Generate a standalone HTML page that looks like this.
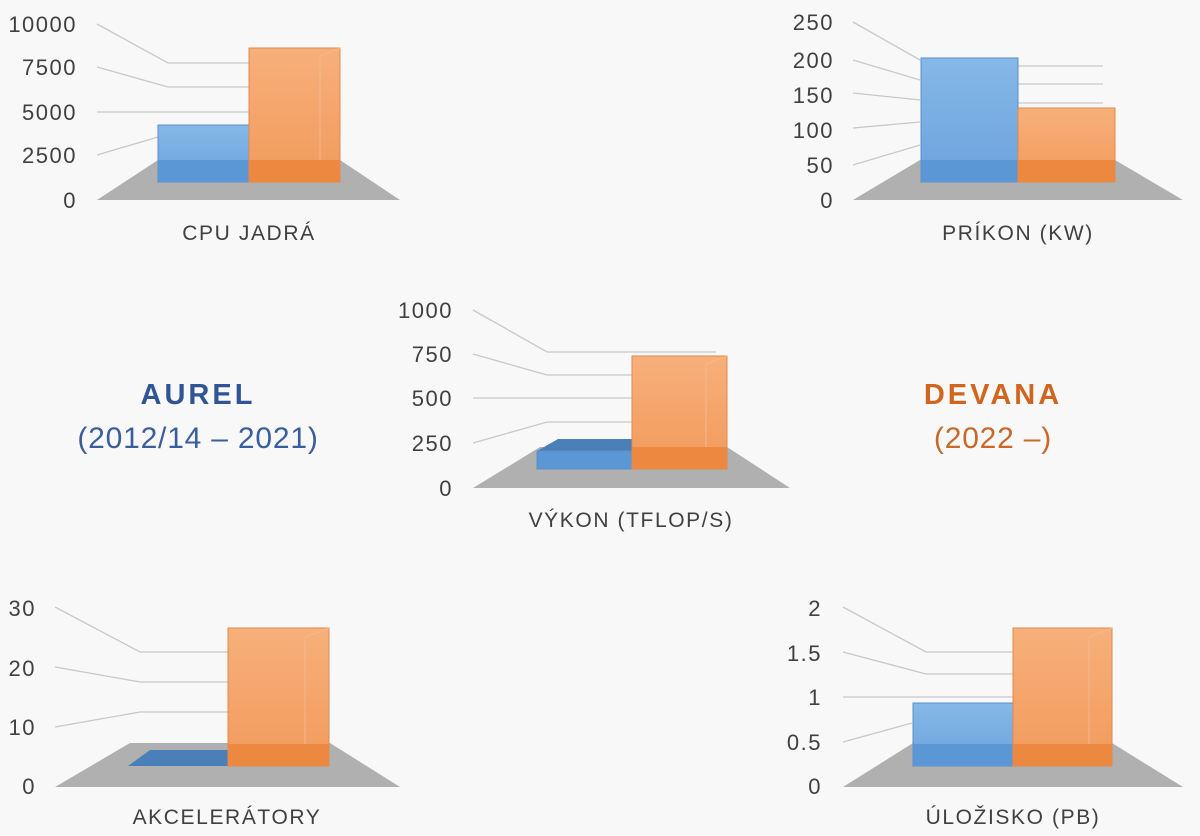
<!DOCTYPE html>
<html><head><meta charset="utf-8"><style>
html,body{margin:0;padding:0;background:#f8f8f8;}
svg{display:block}
text{font-family:"Liberation Sans",sans-serif;fill:#404040}
.t{font-size:22px;text-anchor:end;letter-spacing:1.5px}
.c{font-size:21px;text-anchor:middle;letter-spacing:1.6px}
.g{stroke:#c8c8c8;stroke-width:1.3;fill:none}
.floor{fill:#b0b0b0}
</style></head><body>
<svg width="1200" height="836" viewBox="0 0 1200 836">
<defs>
<linearGradient id="bl" x1="0" y1="0" x2="0" y2="1"><stop offset="0" stop-color="#86b8e8"/><stop offset="1" stop-color="#6aa3dc"/></linearGradient>
<linearGradient id="or" x1="0" y1="0" x2="0" y2="1"><stop offset="0" stop-color="#f7b07a"/><stop offset="1" stop-color="#f29a5c"/></linearGradient>
</defs>

<!-- CHART 1: CPU -->
<text class="t" x="77" y="32">10000</text><text class="t" x="77" y="75">7500</text><text class="t" x="77" y="120">5000</text><text class="t" x="77" y="163">2500</text><text class="t" x="77" y="208">0</text>
<polygon class="floor" points="97,200 400,200 340,160 158,160"/>
<polyline class="g" points="97,24 168,63 340,63"/><polyline class="g" points="97,67 168,87 340,87"/><polyline class="g" points="97,112 340,112"/><polyline class="g" points="97,155 158,137"/>
<rect x="158" y="125" width="91" height="57" fill="url(#bl)" stroke="#5a8fc8"/>
<rect x="158" y="160" width="91" height="22" fill="#5b97d4"/>
<rect x="249" y="48" width="91" height="134" fill="url(#or)" stroke="#e08a4e"/>
<rect x="249" y="160" width="91" height="22" fill="#ec8840"/>
<polyline points="320,56 320,160" stroke="#f4b890" fill="none"/><line x1="320" y1="56" x2="340" y2="48" stroke="#f4b890"/>
<text class="c" x="249" y="240">CPU JADRÁ</text>

<!-- CHART 2: PRIKON -->
<text class="t" x="834" y="30">250</text><text class="t" x="834" y="68">200</text><text class="t" x="834" y="103">150</text><text class="t" x="834" y="138">100</text><text class="t" x="834" y="173">50</text><text class="t" x="834" y="208">0</text>
<polygon class="floor" points="853,200 1183,200 1115,160 920,160"/>
<polyline class="g" points="853,22 920,60"/><polyline class="g" points="853,60 920,80"/><polyline class="g" points="853,93 920,100"/><polyline class="g" points="853,128 920,122"/><polyline class="g" points="853,165 920,145"/>
<line class="g" x1="1018" y1="66" x2="1103" y2="66"/><line class="g" x1="1018" y1="84" x2="1103" y2="84"/><line class="g" x1="1018" y1="103" x2="1103" y2="103"/>
<rect x="921" y="58" width="97" height="124" fill="url(#bl)" stroke="#5a8fc8"/>
<rect x="921" y="160" width="97" height="22" fill="#5b97d4"/>
<rect x="1018" y="108" width="97" height="74" fill="url(#or)" stroke="#e08a4e"/>
<rect x="1018" y="160" width="97" height="22" fill="#ec8840"/>
<text class="c" x="1018" y="240">PRÍKON (KW)</text>

<!-- CENTER: VYKON -->
<text class="t" x="453" y="318">1000</text><text class="t" x="453" y="362">750</text><text class="t" x="453" y="406">500</text><text class="t" x="453" y="451">250</text><text class="t" x="453" y="496">0</text>
<polygon class="floor" points="473,488 790,488 727,447 540,447"/>
<polyline class="g" points="473,310 547,352 716,352"/><polyline class="g" points="473,354 547,375 632,375"/><polyline class="g" points="473,398 632,398"/><polyline class="g" points="473,443 547,422 632,422"/>
<polygon points="537,451 558,439 632,439 632,451" fill="#4a7fb8"/>
<rect x="537" y="451" width="95" height="18" fill="#5b97d4" stroke="#5a8fc8"/>
<rect x="632" y="356" width="95" height="113" fill="url(#or)" stroke="#e08a4e"/>
<rect x="632" y="447" width="95" height="22" fill="#ec8840"/>
<polyline points="706,364 706,447" stroke="#f4b890" fill="none"/><line x1="706" y1="364" x2="727" y2="356" stroke="#f4b890"/>
<text class="c" x="631" y="527">VÝKON (TFLOP/S)</text>

<!-- Titles -->
<text x="198" y="404" style="font-size:29px;font-weight:bold;fill:#2f5597;text-anchor:middle;letter-spacing:3px">AUREL</text>
<text x="198" y="448" style="font-size:30px;fill:#3a5d9c;text-anchor:middle;letter-spacing:0.8px">(2012/14 – 2021)</text>
<text x="993" y="404" style="font-size:29px;font-weight:bold;fill:#d0651f;text-anchor:middle;letter-spacing:3px">DEVANA</text>
<text x="993" y="448" style="font-size:30px;fill:#c8682a;text-anchor:middle;letter-spacing:0.8px">(2022 –)</text>

<!-- CHART 4: AKCELERATORY -->
<text class="t" x="36" y="616">30</text><text class="t" x="36" y="676">20</text><text class="t" x="36" y="735">10</text><text class="t" x="36" y="794">0</text>
<polygon class="floor" points="55,787 400,787 330,743 130,743"/>
<polyline class="g" points="55,607 140,652 228,652"/><polyline class="g" points="55,667 140,682 228,682"/><polyline class="g" points="55,727 140,712 228,712"/>
<polygon points="128,766 150,750 228,750 228,766" fill="#4a7fb8"/>
<rect x="228" y="628" width="101" height="138" fill="url(#or)" stroke="#e08a4e"/>
<rect x="228" y="744" width="101" height="22" fill="#ec8840"/>
<polyline points="305,637 305,744" stroke="#f4b890" fill="none"/><line x1="305" y1="637" x2="329" y2="628" stroke="#f4b890"/>
<text class="c" x="227" y="824">AKCELERÁTORY</text>

<!-- CHART 5: ULOZISKO -->
<text class="t" x="822" y="616">2</text><text class="t" x="822" y="661">1.5</text><text class="t" x="822" y="705">1</text><text class="t" x="822" y="750">0.5</text><text class="t" x="822" y="794">0</text>
<polygon class="floor" points="843,787 1183,787 1112,743 913,743"/>
<polyline class="g" points="843,607 926,652 1013,652"/><polyline class="g" points="843,652 926,674 1013,674"/><polyline class="g" points="843,697 1013,697"/><polyline class="g" points="843,742 912,723"/>
<rect x="913" y="703" width="100" height="63" fill="url(#bl)" stroke="#5a8fc8"/>
<rect x="913" y="744" width="100" height="22" fill="#5b97d4"/>
<rect x="1013" y="628" width="99" height="138" fill="url(#or)" stroke="#e08a4e"/>
<rect x="1013" y="744" width="99" height="22" fill="#ec8840"/>
<polyline points="1089,637 1089,744" stroke="#f4b890" fill="none"/><line x1="1089" y1="637" x2="1112" y2="628" stroke="#f4b890"/>
<text class="c" x="1013" y="824">ÚLOŽISKO (PB)</text>
</svg>
</body></html>
